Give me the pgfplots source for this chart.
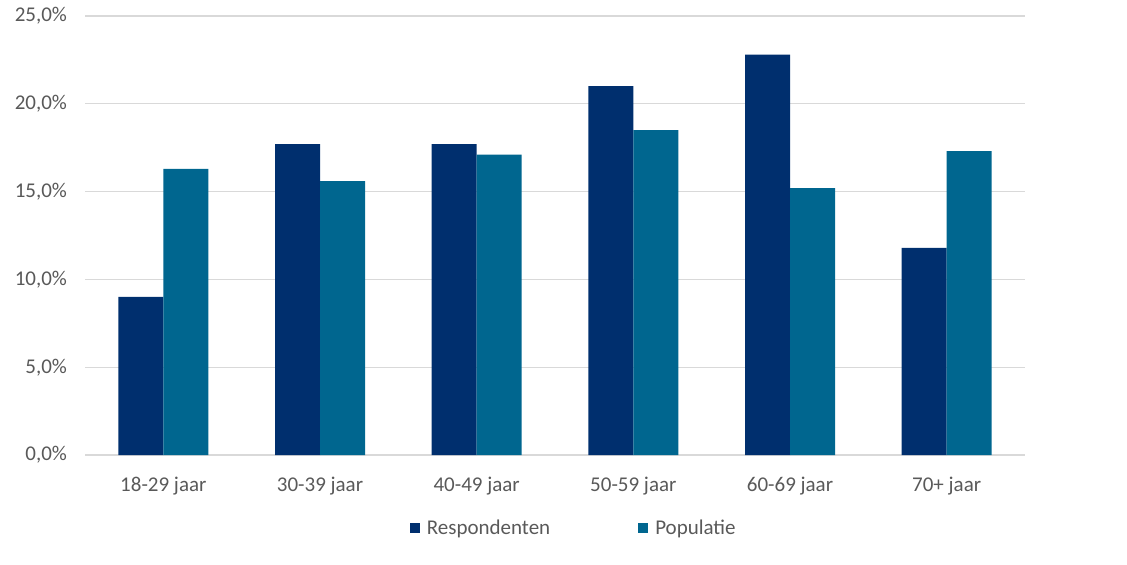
\documentclass[border=0pt]{standalone}
\usepackage{pgfplots}
\pgfplotsset{compat=1.18}
\usepackage{fontspec}
\setmainfont{Carlito}
\definecolor{resp}{HTML}{002F6E}
\definecolor{pop}{HTML}{00668F}
\definecolor{txt}{HTML}{595959}
\definecolor{gridc}{HTML}{D9D9D9}
\begin{document}
\begin{tikzpicture}
\path[use as bounding box] (0,0) rectangle (563.5pt,282pt);
\begin{axis}[
  at={(42.5pt,54.5pt)}, anchor=south west,
  scale only axis, width=470pt, height=219.5pt,
  ybar=0pt, bar width=22.5pt,
  xmin=-0.5, xmax=5.5, ymin=0, ymax=25,
  xtick={0,1,2,3,4,5},
  xticklabels={18-29 jaar,30-39 jaar,40-49 jaar,50-59 jaar,60-69 jaar,70+ jaar},
  ytick={0,5,10,15,20,25},
  yticklabels={{0,0\%},{5,0\%},{10,0\%},{15,0\%},{20,0\%},{25,0\%}},
  ymajorgrids, grid style={gridc, line width=0.6pt},
  axis line style={draw=none}, major tick length=0pt,
  tick label style={font=\fontsize{10.5}{12}\selectfont, text=txt},
  yticklabel style={xshift=-5.5pt},
  xticklabel style={yshift=-7.5pt},
  legend columns=2,
  legend style={at={(0.521,-0.167)}, anchor=center, draw=none, fill=none,
    font=\fontsize{10.5}{12}\selectfont, text=txt,
    /tikz/every odd column/.append style={column sep=1.5pt},
    /tikz/every even column/.append style={column sep=42pt}},
  legend image code/.code={\fill[#1] (0pt,-2.5pt) rectangle (5pt,2.5pt);},
]
\addplot[fill=resp, draw=none] coordinates {(0,9.0) (1,17.7) (2,17.7) (3,21.0) (4,22.8) (5,11.8)};
\addplot[fill=pop, draw=none] coordinates {(0,16.3) (1,15.6) (2,17.1) (3,18.5) (4,15.2) (5,17.3)};
\legend{Respondenten, Populatie}
\end{axis}
\end{tikzpicture}
\end{document}
